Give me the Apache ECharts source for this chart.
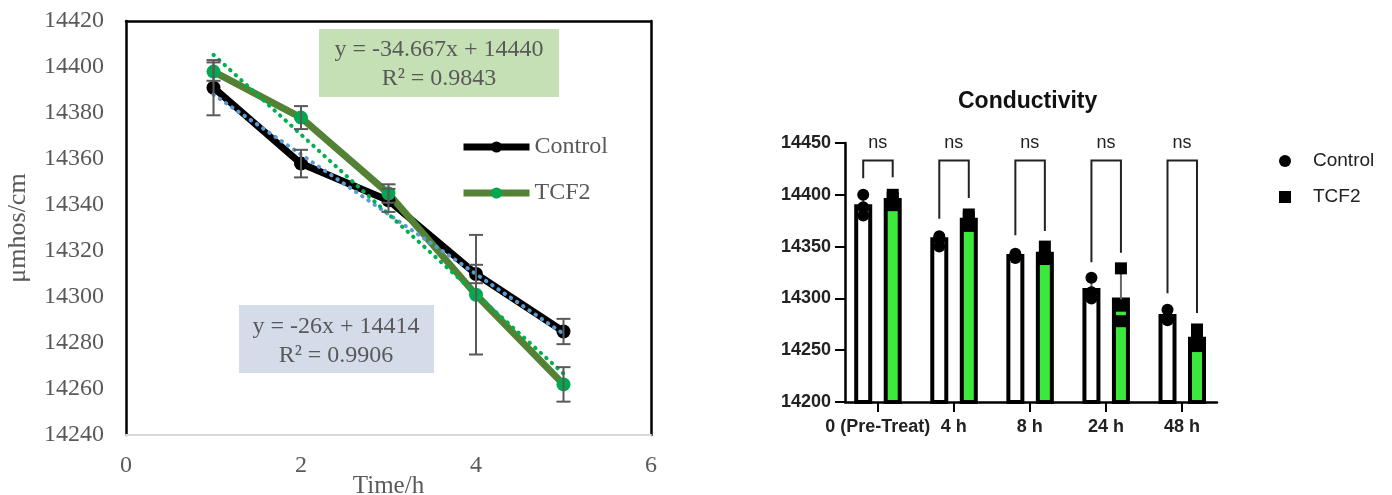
<!DOCTYPE html>
<html><head><meta charset="utf-8">
<script src="https://cdn.jsdelivr.net/npm/echarts@6/dist/echarts.min.js"></script>
<style>html,body{margin:0;padding:0;background:#fff}#c{width:1392px;height:495px}</style>
</head><body><div id="c"></div>
<script>
// ---------- Left chart data ----------
const timeH = [1, 2, 3, 4, 5];
const controlMean = [14391, 14358, 14342, 14310, 14285];
const controlErr = [12, 6, 5, 4, 5.5];
const tcf2Mean = [14398, 14378, 14345, 14301, 14262];
const tcf2Err = [4, 5, 4, 26, 7.5];
const controlTrendX = [1, 5];
const controlTrendY = [14388, 14284];
const tcf2TrendX = [1, 5];
const tcf2TrendY = [14405.3, 14266.7];
const controlEq = ['y = -26x + 14414', 'R² = 0.9906'];
const tcf2Eq = ['y = -34.667x + 14440', 'R² = 0.9843'];

// ---------- Right chart data ----------
const categories = ['0 (Pre-Treat)', '4 h', '8 h', '24 h', '48 h'];
const ctrlBar = [14389, 14357, 14341, 14308, 14283];
const tcfBar = [14395, 14376, 14343, 14299, 14261];
const ctrlReps = [[14400, 14388, 14380], [14360, 14357, 14350], [14343, 14340, 14339], [14320, 14306, 14300], [14289, 14280, 14279]];
const tcfReps = [[14400, 14397, 14390], [14381, 14378, 14370], [14350, 14340, 14338], [14329, 14293, 14278], [14270, 14260, 14254]];
const ctrlSD = [10, 5, 2, 10, 6];
const tcfSD = [5, 6, 6, 28, 8];
const bracketLeftEnd = [14416, 14377, 14361, 14335, 14305];
const bracketRightEnd = [14417, 14397, 14365, 14344, 14286];
const bracketTopVal = [14433, 14433, 14433, 14433, 14433];
const sigLabels = ['ns', 'ns', 'ns', 'ns', 'ns'];

const SERIF = '"Liberation Serif", "Times New Roman", serif';
const SANS = '"Liberation Sans", Arial, sans-serif';
const GRAY = '#595959';
const plain = v => String(v);

function errRender(params, api) {
  const x = api.value(0), m = api.value(1), e = api.value(2);
  const t = api.coord([x, m + e]), b = api.coord([x, m - e]);
  const hw = 7, st = { stroke: GRAY, lineWidth: 2 };
  return { type: 'group', children: [
    { type: 'line', shape: { x1: t[0], y1: t[1], x2: b[0], y2: b[1] }, style: st },
    { type: 'line', shape: { x1: t[0] - hw, y1: t[1], x2: t[0] + hw, y2: t[1] }, style: st },
    { type: 'line', shape: { x1: b[0] - hw, y1: b[1], x2: b[0] + hw, y2: b[1] }, style: st }
  ] };
}

const OFF_C = -14.5, OFF_T = 15;
function barRender(off, fill) {
  return function (params, api) {
    const p = api.coord([api.value(0), api.value(1)]);
    const base = api.coord([api.value(0), 14200]);
    return { type: 'rect', shape: { x: p[0] + off - 7, y: p[1], width: 14, height: base[1] - p[1] },
      style: { fill: fill, stroke: '#000', lineWidth: 4 } };
  };
}
function sdRender(off) {
  return function (params, api) {
    const p = api.coord([api.value(0), api.value(1)]);
    const t = api.coord([api.value(0), api.value(1) + api.value(2)]);
    const st = { stroke: '#666', lineWidth: 2 };
    return { type: 'group', children: [
      { type: 'line', shape: { x1: p[0] + off, y1: p[1], x2: p[0] + off, y2: t[1] }, style: st },
      { type: 'line', shape: { x1: p[0] + off - 5, y1: t[1], x2: p[0] + off + 5, y2: t[1] }, style: st }
    ] };
  };
}
function bracketRender(params, api) {
  const i = params.dataIndex;
  const x = api.value(0);
  const l = api.coord([x, api.value(1)]), r = api.coord([x, api.value(2)]), top = api.coord([x, api.value(3)]);
  const lab = api.coord([x, 14450]);
  return { type: 'group', children: [
    { type: 'polyline', shape: { points: [[l[0] + OFF_C, l[1]], [l[0] + OFF_C, top[1]], [l[0] + OFF_T, top[1]], [l[0] + OFF_T, r[1]]] },
      style: { stroke: '#222', lineWidth: 2, fill: null } },
    { type: 'text', x: lab[0], y: lab[1], style: { text: sigLabels[i], fontFamily: SANS, fontSize: 18, fill: '#222', align: 'center', verticalAlign: 'middle' } }
  ] };
}

const chart = echarts.init(document.getElementById('c'));
const option = {
  backgroundColor: '#fff',
  animation: false,
  title: { text: 'Conductivity', left: 958, top: 90, padding: 0,
    textStyle: { fontFamily: SANS, fontSize: 23, fontWeight: 'bold', color: '#111' } },
  grid: [
    { left: 126, top: 21, width: 525, height: 414, outerBoundsMode: 'none', containLabel: false },
    { left: 845, top: 143, width: 372, height: 259, outerBoundsMode: 'none', containLabel: false }
  ],
  xAxis: [
    { gridIndex: 0, type: 'value', min: 0, max: 6, interval: 2,
      axisLine: { onZero: false, lineStyle: { color: '#d9d9d9', width: 2 } }, axisTick: { show: false }, splitLine: { show: false },
      axisLabel: { fontFamily: SERIF, fontSize: 24, color: GRAY, margin: 19, formatter: plain },
      name: 'Time/h', nameLocation: 'middle', nameGap: 39, nameMoveOverlap: false,
      nameTextStyle: { fontFamily: SERIF, fontSize: 25, color: GRAY } },
    { gridIndex: 0, type: 'value', min: 0, max: 6, position: 'top',
      axisLine: { onZero: false, lineStyle: { color: '#000', width: 2.5 } }, axisTick: { show: false }, axisLabel: { show: false }, splitLine: { show: false } },
    { gridIndex: 1, type: 'value', min: -0.43, max: 4.46,
      axisLine: { onZero: false, lineStyle: { color: '#000', width: 2.5 } },
      axisTick: { customValues: [0, 1, 2, 3, 4], length: 10, lineStyle: { color: '#000', width: 2 } },
      axisLabel: { customValues: [0, 1, 2, 3, 4], formatter: v => categories[Math.round(v)], fontFamily: SANS, fontSize: 18, fontWeight: 'bold', color: '#222', margin: 16 },
      splitLine: { show: false } }
  ],
  yAxis: [
    { gridIndex: 0, type: 'value', min: 14240, max: 14420, interval: 20,
      axisLine: { show: true, onZero: false, lineStyle: { color: '#000', width: 2.5 } }, axisTick: { show: false }, splitLine: { show: false },
      axisLabel: { fontFamily: SERIF, fontSize: 24, color: GRAY, margin: 22, formatter: plain },
      name: 'μmhos/cm', nameLocation: 'middle', nameGap: 95, nameMoveOverlap: false,
      nameTextStyle: { fontFamily: SERIF, fontSize: 26, color: GRAY } },
    { gridIndex: 0, type: 'value', min: 14240, max: 14420, position: 'right',
      axisLine: { show: true, onZero: false, lineStyle: { color: '#000', width: 2.5 } }, axisTick: { show: false }, axisLabel: { show: false }, splitLine: { show: false } },
    { gridIndex: 1, type: 'value', min: 14200, max: 14450, interval: 50,
      axisLine: { show: true, onZero: false, lineStyle: { color: '#000', width: 2.5 } },
      axisTick: { show: true, length: 10, lineStyle: { color: '#000', width: 2 } },
      axisLabel: { fontFamily: SANS, fontSize: 18, fontWeight: 'bold', color: '#222', margin: 14, formatter: plain },
      splitLine: { show: false } }
  ],
  legend: [
    { data: ['Control', 'TCF2'], orient: 'vertical', left: 460, top: 133, padding: 0, itemWidth: 66, itemHeight: 14, itemGap: 18,
      lineStyle: { width: 7 },
      textStyle: { fontFamily: SERIF, fontSize: 24, color: GRAY, lineHeight: 28 } },
    { data: [{ name: 'Control', icon: 'circle', itemStyle: { color: '#000' } }, { name: 'TCF2', icon: 'rect', itemStyle: { color: '#000' } }],
      orient: 'vertical', left: 1279, top: 150, padding: 0, itemWidth: 12, itemHeight: 12, itemGap: 14,
      textStyle: { fontFamily: SANS, fontSize: 19, color: '#222', lineHeight: 22, padding: [0, 0, 0, 17] } }
  ],
  graphic: [
    { type: 'group', left: 319, top: 29, children: [
      { type: 'rect', shape: { x: 0, y: 0, width: 240, height: 68 }, style: { fill: '#c5e0b4' } },
      { type: 'text', x: 120, y: 21, style: { text: tcf2Eq[0], fontFamily: SERIF, fontSize: 24, fill: GRAY, align: 'center', verticalAlign: 'middle' } },
      { type: 'text', x: 120, y: 50, style: { text: tcf2Eq[1], fontFamily: SERIF, fontSize: 24, fill: GRAY, align: 'center', verticalAlign: 'middle' } }
    ] },
    { type: 'group', left: 239, top: 305, children: [
      { type: 'rect', shape: { x: 0, y: 0, width: 195, height: 68 }, style: { fill: '#d4dcea' } },
      { type: 'text', x: 97, y: 22, style: { text: controlEq[0], fontFamily: SERIF, fontSize: 24, fill: GRAY, align: 'center', verticalAlign: 'middle' } },
      { type: 'text', x: 97, y: 51, style: { text: controlEq[1], fontFamily: SERIF, fontSize: 24, fill: GRAY, align: 'center', verticalAlign: 'middle' } }
    ] }
  ],
  series: [
    { name: 'Control', type: 'line', xAxisIndex: 0, yAxisIndex: 0, data: timeH.map((t, i) => [t, controlMean[i]]),
      symbol: 'circle', symbolSize: 14, lineStyle: { color: '#000', width: 7 }, itemStyle: { color: '#000' }, z: 3 },
    { name: 'TCF2', type: 'line', xAxisIndex: 0, yAxisIndex: 0, data: timeH.map((t, i) => [t, tcf2Mean[i]]),
      symbol: 'circle', symbolSize: 14, lineStyle: { color: '#548235', width: 7 }, itemStyle: { color: '#00a84f' }, z: 3 },
    { name: 'Control trend', type: 'line', xAxisIndex: 0, yAxisIndex: 0, data: controlTrendX.map((x, i) => [x, controlTrendY[i]]),
      symbol: 'none', lineStyle: { color: '#5b9bd5', width: 4, type: [0.5, 7], cap: 'round' }, z: 4 },
    { name: 'TCF2 trend', type: 'line', xAxisIndex: 0, yAxisIndex: 0, data: tcf2TrendX.map((x, i) => [x, tcf2TrendY[i]]),
      symbol: 'none', lineStyle: { color: '#00b050', width: 4, type: [0.5, 7], cap: 'round' }, z: 4 },
    { type: 'custom', xAxisIndex: 0, yAxisIndex: 0, renderItem: errRender, data: timeH.map((t, i) => [t, controlMean[i], controlErr[i]]), z: 5 },
    { type: 'custom', xAxisIndex: 0, yAxisIndex: 0, renderItem: errRender, data: timeH.map((t, i) => [t, tcf2Mean[i], tcf2Err[i]]), z: 5 },

    // Right chart
    { type: 'custom', xAxisIndex: 2, yAxisIndex: 2, renderItem: barRender(OFF_C, '#ffffff'), data: categories.map((c, i) => [i, ctrlBar[i]]), z: 2 },
    { type: 'custom', xAxisIndex: 2, yAxisIndex: 2, renderItem: barRender(OFF_T, '#3de83d'), data: categories.map((c, i) => [i, tcfBar[i]]), z: 2 },
    { type: 'custom', xAxisIndex: 2, yAxisIndex: 2, renderItem: sdRender(OFF_C), data: categories.map((c, i) => [i, ctrlBar[i], ctrlSD[i]]), z: 3 },
    { type: 'custom', xAxisIndex: 2, yAxisIndex: 2, renderItem: sdRender(OFF_T), data: categories.map((c, i) => [i, tcfBar[i], tcfSD[i]]), z: 3 },
    { name: 'Control', type: 'scatter', xAxisIndex: 2, yAxisIndex: 2, symbol: 'circle', symbolSize: 12, symbolOffset: [OFF_C, 0],
      itemStyle: { color: '#000', opacity: 1 }, data: ctrlReps.flatMap((r, i) => r.map(v => [i, v])), z: 4 },
    { name: 'TCF2', type: 'scatter', xAxisIndex: 2, yAxisIndex: 2, symbol: 'rect', symbolSize: 12, symbolOffset: [OFF_T, 0],
      itemStyle: { color: '#000', opacity: 1 }, data: tcfReps.flatMap((r, i) => r.map(v => [i, v])), z: 4 },
    { type: 'custom', xAxisIndex: 2, yAxisIndex: 2, renderItem: bracketRender,
      data: categories.map((c, i) => [i, bracketLeftEnd[i], bracketRightEnd[i], bracketTopVal[i]]), z: 3 }
  ]
};
chart.setOption(option);
</script></body></html>
